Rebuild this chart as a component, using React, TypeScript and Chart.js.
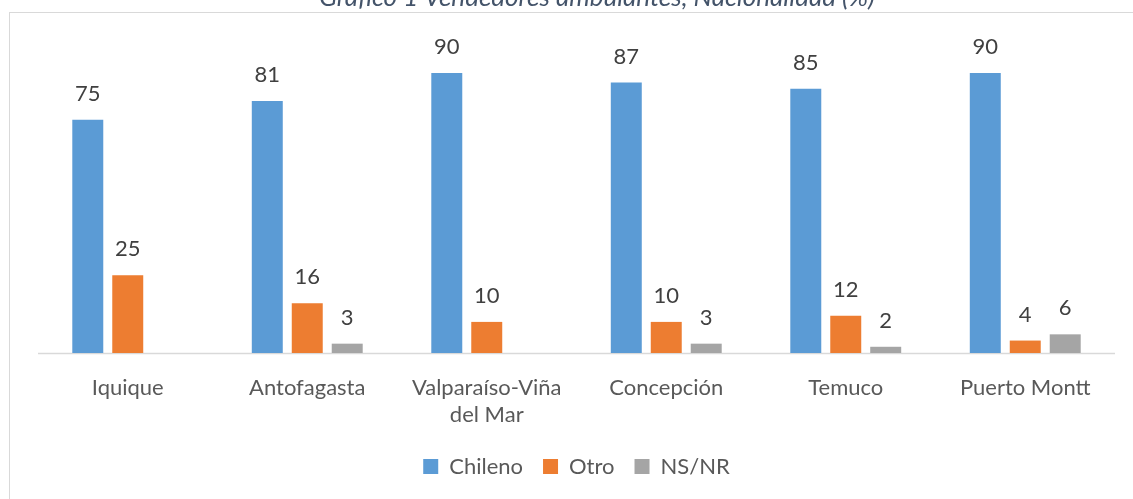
import React, { useEffect, useRef } from "react";
import { Chart, registerables } from "chart.js";

Chart.register(...registerables);

const categories: (string | string[])[] = [
  "Iquique",
  "Antofagasta",
  ["Valparaíso-Viña", "del Mar"],
  "Concepción",
  "Temuco",
  "Puerto Montt",
];
const chileno = [75, 81, 90, 87, 85, 90];
const otro = [25, 16, 10, 10, 12, 4];
const nsnr: (number | null)[] = [null, 3, null, 3, 2, 6];
const titleText = "Gráfico 1 Vendedores ambulantes, Nacionalidad (%)";

const TEXT = "#595959";
const FONT = "Lato, 'Open Sans', sans-serif";

const framePlugin = {
  id: "frame",
  beforeDraw(chart: any) {
    const ctx = chart.ctx;
    ctx.save();
    ctx.fillStyle = "#ffffff";
    ctx.fillRect(0, 0, chart.width, chart.height);
    ctx.strokeStyle = "#d9d9d9";
    ctx.lineWidth = 1;
    ctx.strokeRect(9.5, 12.5, chart.width + 20, chart.height + 20);
    ctx.fillStyle = "#44546a";
    ctx.font = "italic 26px " + FONT;
    ctx.textAlign = "center";
    ctx.textBaseline = "alphabetic";
    ctx.fillText(titleText, 597, 6);
    ctx.restore();
  },
};

const labelPlugin = {
  id: "valueLabels",
  beforeDatasetsDraw(chart: any) {
    const a = chart.chartArea;
    const ctx = chart.ctx;
    ctx.save();
    ctx.strokeStyle = "#d9d9d9";
    ctx.lineWidth = 1.5;
    ctx.beginPath();
    ctx.moveTo(a.left, a.bottom + 0.5);
    ctx.lineTo(a.right, a.bottom + 0.5);
    ctx.stroke();
    ctx.restore();
  },
  afterDatasetsDraw(chart: any) {
    const ctx = chart.ctx;
    ctx.save();
    ctx.fillStyle = "#404040";
    ctx.font = "22px " + FONT;
    ctx.textAlign = "center";
    ctx.textBaseline = "middle";
    chart.data.datasets.forEach((ds: any, di: number) => {
      const meta = chart.getDatasetMeta(di);
      meta.data.forEach((bar: any, i: number) => {
        const v = ds.data[i];
        if (v === null || v === undefined) return;
        ctx.fillText(String(v), bar.x, bar.y - 26);
      });
    });
    ctx.restore();
  },
};

export default function App() {
  const ref = useRef<HTMLCanvasElement | null>(null);
  useEffect(() => {
    if (!ref.current) return;
    const chart = new Chart(ref.current, {
      type: "bar",
      data: {
        labels: categories as any,
        datasets: [
          { label: "Chileno", data: chileno, backgroundColor: "#5b9bd5" },
          { label: "Otro", data: otro, backgroundColor: "#ed7d31" },
          { label: "NS/NR", data: nsnr, backgroundColor: "#a5a5a5" },
        ],
      },
      options: {
        animation: false,
        responsive: false,
        maintainAspectRatio: false,
        datasets: {
          bar: { categoryPercentage: 0.668, barPercentage: 0.775 },
        },
        layout: { padding: { top: 42, left: 38, right: 18, bottom: 11.5 } },
        scales: {
          x: {
            grid: { display: false, drawTicks: true, tickLength: 13.5 },
            border: { display: false },
            ticks: {
              color: TEXT,
              padding: 7.5,
              maxRotation: 0,
              autoSkip: false,
              font: { family: FONT, size: 22, lineHeight: 27 / 22 },
            },
          },
          y: { display: false, min: 0, max: 100 },
        },
        plugins: {
          legend: {
            position: "bottom",
            labels: {
              color: TEXT,
              boxWidth: 15,
              boxHeight: 15,
              padding: 20,
              font: { family: FONT, size: 22 },
            },
          },
          tooltip: { enabled: false },
          title: { display: false },
        },
      },
      plugins: [framePlugin, labelPlugin],
    });
    return () => chart.destroy();
  }, []);
  return (
    <div style={{ position: "fixed", left: 0, top: 0, width: 1133, height: 499, overflow: "hidden", background: "#fff" }}>
      <canvas ref={ref} width={1133} height={499} style={{ display: "block", width: 1133, height: 499 }} />
    </div>
  );
}
